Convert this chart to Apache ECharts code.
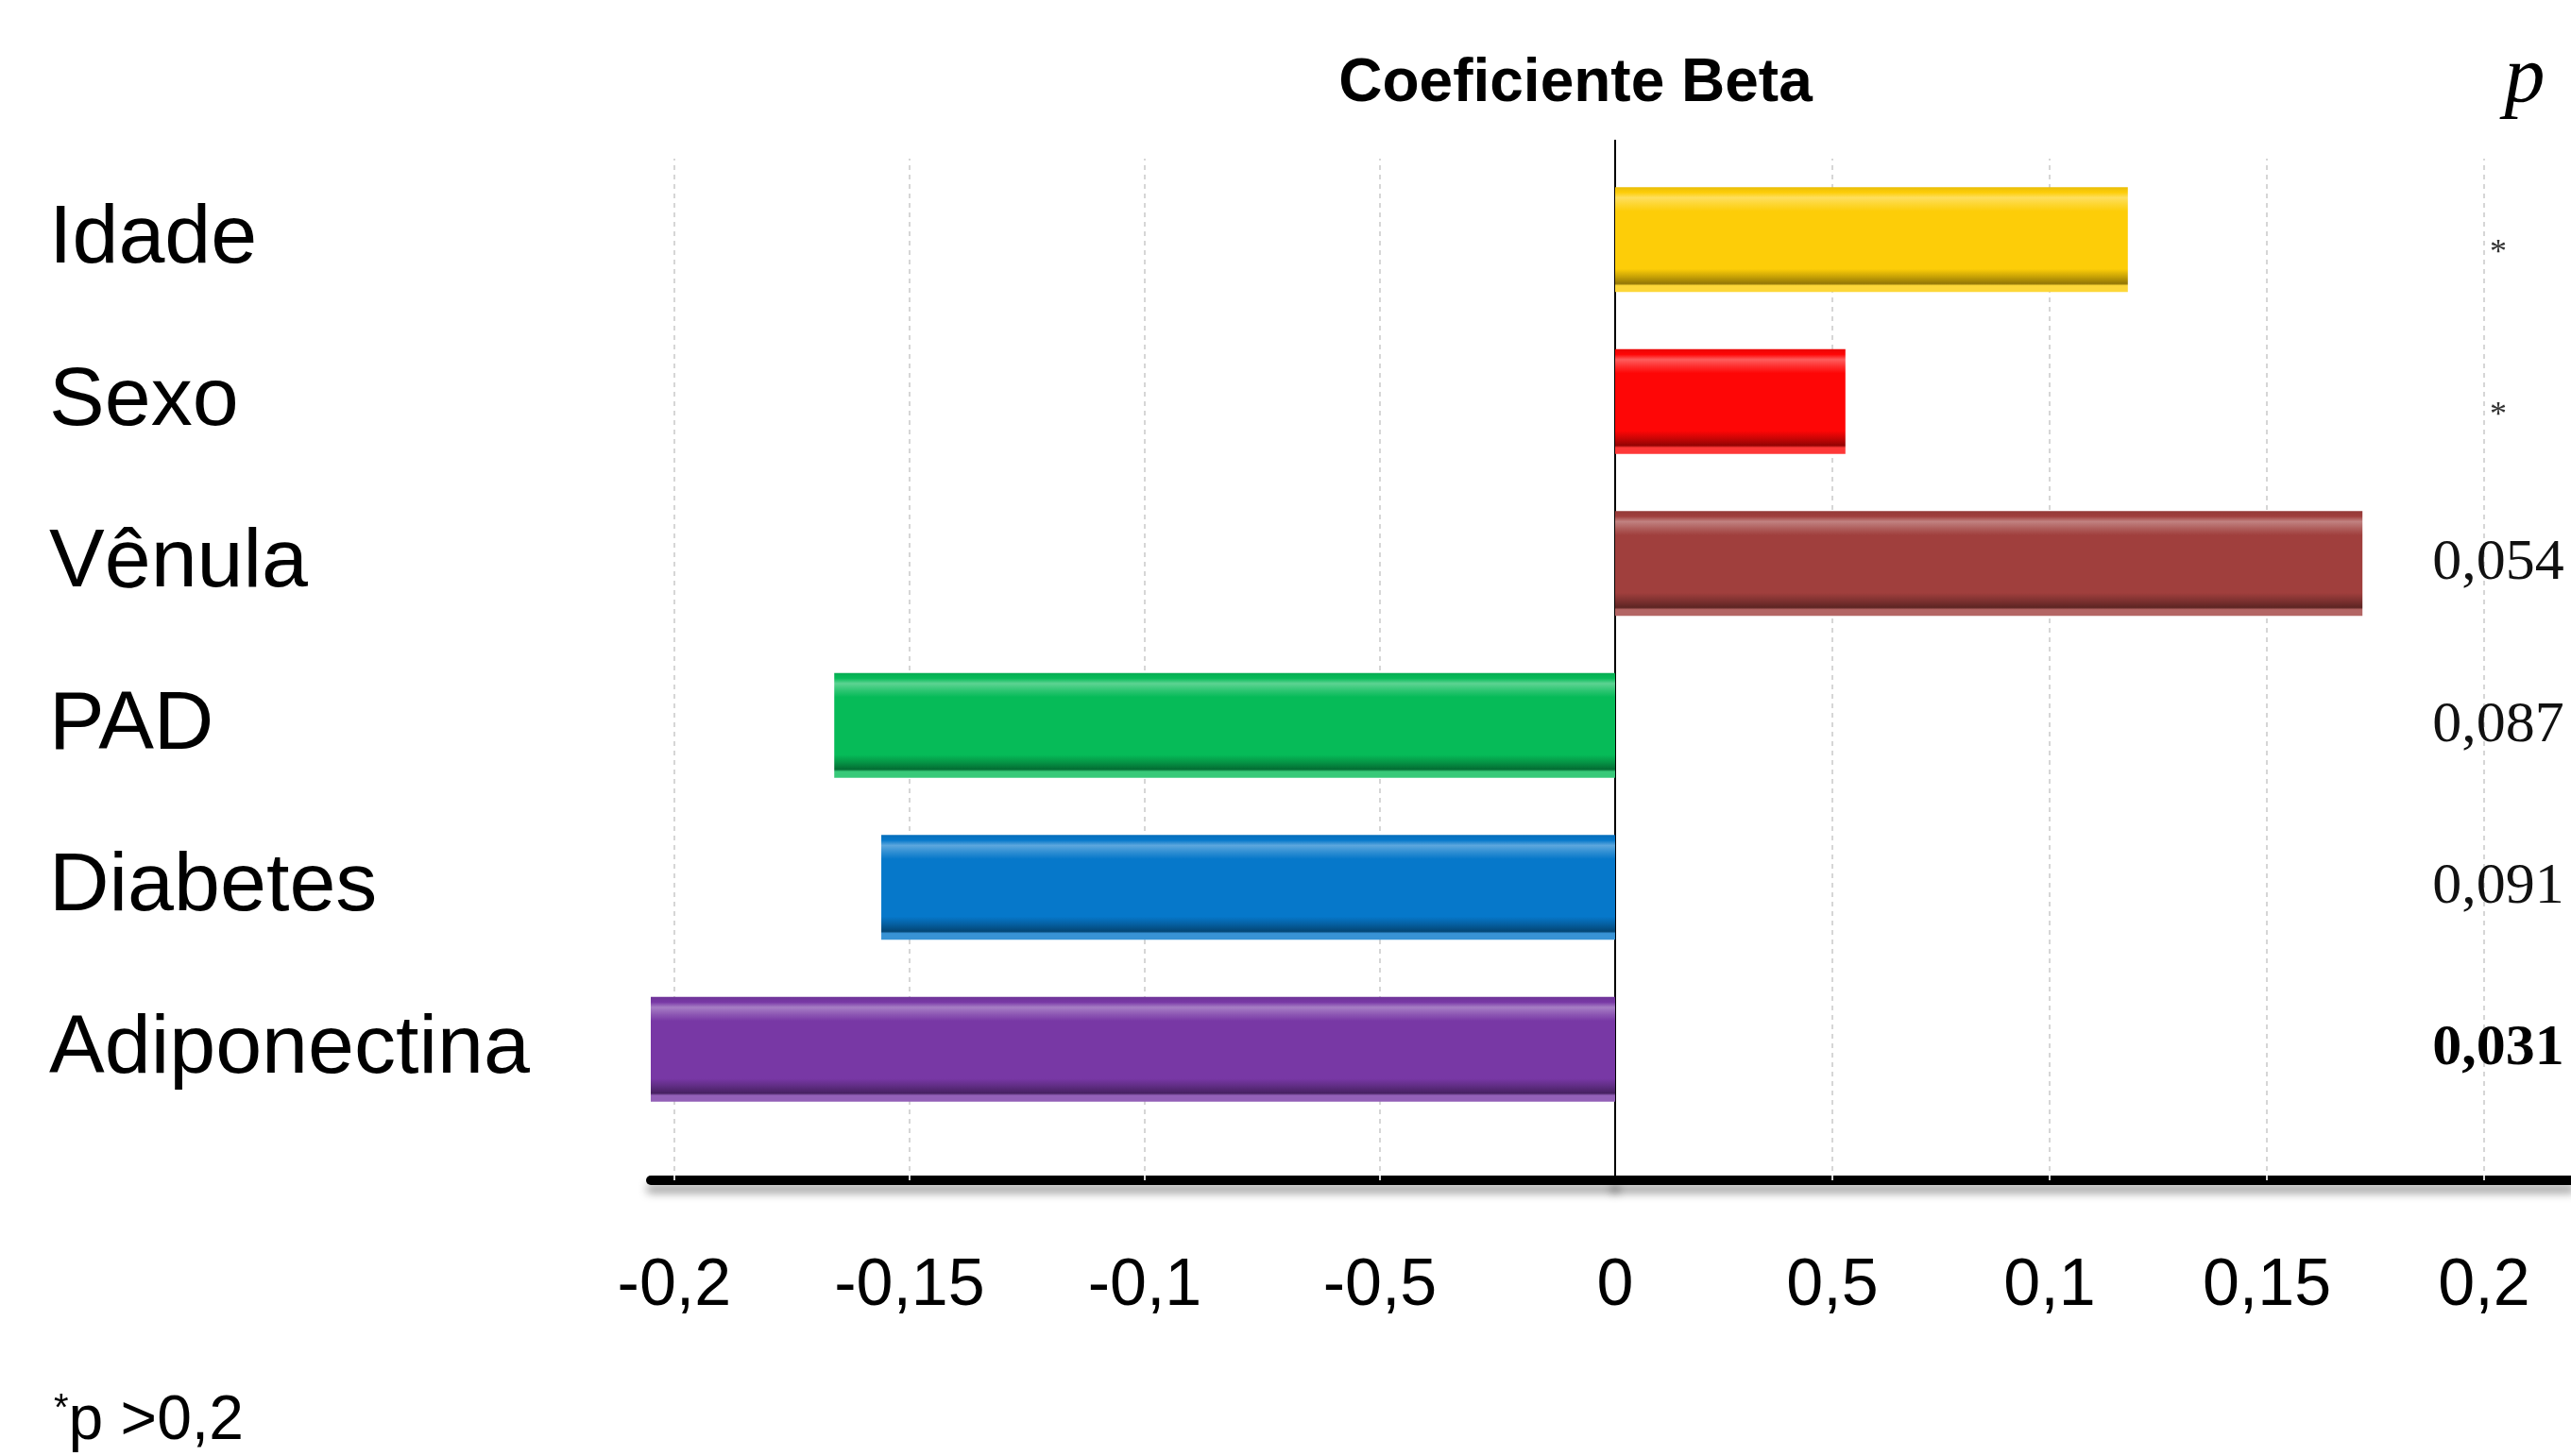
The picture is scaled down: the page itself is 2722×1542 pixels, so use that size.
<!DOCTYPE html>
<html>
<head>
<meta charset="utf-8">
<script src="https://cdn.jsdelivr.net/npm/echarts@6/dist/echarts.min.js"></script>
<style>
    html, body { margin: 0; background: #fff; }
    #betaChart { width: 2722px; height: 1542px; }
</style>
</head>
<body>
<div id="betaChart"></div>
<script>
// data (top to bottom)
const categories = ['Idade', 'Sexo', 'Vênula', 'PAD', 'Diabetes', 'Adiponectina'];
const betaValues = [0.118, 0.053, 0.172, -0.166, -0.156, -0.205];
const pValues = ['*', '*', '0,054', '0,087', '0,091', '0,031'];
const tickValues = [-0.2, -0.15, -0.1, -0.05, 0, 0.05, 0.1, 0.15, 0.2];
const tickLabels = ['-0,2', '-0,15', '-0,1', '-0,5', '0', '0,5', '0,1', '0,15', '0,2'];
const barColors = ['#FDCD08', '#FE0606', '#A03F3D', '#06BB58', '#0678CA', '#7838A5'];

const FONT = "'Liberation Sans', Arial, sans-serif";

// mix a hex colour towards white (t > 0) or black (t < 0)
function shade(hex, t) {
    const n = parseInt(hex.slice(1), 16);
    const target = t > 0 ? 255 : 0;
    const a = Math.abs(t);
    const ch = [(n >> 16) & 255, (n >> 8) & 255, n & 255]
        .map(c => Math.round(c + (target - c) * a));
    return 'rgb(' + ch.join(',') + ')';
}

// bevelled look: light band near the top, dark band near the bottom
function barGradient(c) {
    return {
        type: 'linear', x: 0, y: 0, x2: 0, y2: 1,
        colorStops: [
            { offset: 0, color: shade(c, -0.08) },
            { offset: 0.05, color: c },
            { offset: 0.1, color: shade(c, 0.35) },
            { offset: 0.17, color: shade(c, 0.15) },
            { offset: 0.23, color: c },
            { offset: 0.78, color: c },
            { offset: 0.85, color: shade(c, -0.2) },
            { offset: 0.92, color: shade(c, -0.42) },
            { offset: 0.94, color: shade(c, 0.2) },
            { offset: 1, color: shade(c, 0.2) }
        ]
    };
}

function tickText(v) {
    const i = tickValues.findIndex(t => Math.abs(t - v) < 1e-6);
    return i >= 0 ? tickLabels[i] : '';
}

function pText(v, i) {
    const p = pValues[i];
    if (p === '*') return '{s|*}';
    return parseFloat(p.replace(',', '.')) < 0.05 ? '{b|' + p + '}' : '{n|' + p + '}';
}

const leftTicks = tickValues.filter(v => v <= 0);
const rightTicks = tickValues.filter(v => v >= 0);

const baseAxis = {
    type: 'value',
    position: 'bottom',
    offset: 53,
    axisLine: {
        show: true,
        lineStyle: {
            color: '#000', width: 10,
            shadowColor: 'rgba(0,0,0,0.35)', shadowBlur: 10, shadowOffsetY: 9
        }
    },
    axisTick: {
        show: true, inside: true, length: 1082,
        lineStyle: { color: '#d6d6d6', width: 2, type: [5, 5] }
    },
    axisLabel: {
        formatter: tickText, fontSize: 70, margin: 78,
        color: '#000', fontFamily: FONT
    },
    splitLine: { show: false }
};

const chartDom = document.getElementById('betaChart');
const betaChart = echarts.init(chartDom);

const options = {
    backgroundColor: '#fff',
    animation: false,
    title: [
        {
            text: 'Coeficiente Beta', left: 1663, top: 52, textAlign: 'center',
            textStyle: { fontSize: 64, fontWeight: 'bold', fontFamily: FONT, color: '#000' }
        },
        {
            text: 'p', left: 2668, top: 36, textAlign: 'center',
            textStyle: {
                fontSize: 86, fontStyle: 'italic', fontWeight: 'normal',
                fontFamily: "'Liberation Serif', serif", color: '#000'
            }
        },
        {
            text: '{s|*}p >0,2', left: 52, top: 1468,
            textStyle: {
                fontSize: 66, fontWeight: 'normal', fontFamily: FONT, color: '#000',
                rich: {
                    s: { fontSize: 40, verticalAlign: 'top', fontFamily: FONT, color: '#000' }
                }
            }
        }
    ],
    grid: [
        { left: 689, top: 168, width: 1021, height: 1029, outerBoundsMode: 'none' },
        { left: 1710, top: 168, width: 1012, height: 1029, outerBoundsMode: 'none' }
    ],
    xAxis: [
        Object.assign({}, baseAxis, {
            gridIndex: 0, min: -0.205, max: 0,
            axisTick: Object.assign({}, baseAxis.axisTick, { customValues: leftTicks }),
            axisLabel: Object.assign({}, baseAxis.axisLabel, { customValues: leftTicks.filter(v => v < 0) })
        }),
        Object.assign({}, baseAxis, {
            gridIndex: 1, min: 0, max: 0.22,
            axisTick: Object.assign({}, baseAxis.axisTick, { customValues: rightTicks }),
            axisLabel: Object.assign({}, baseAxis.axisLabel, { customValues: rightTicks })
        }),
        {
            // zero line, drawn as a single long tick
            type: 'value', gridIndex: 1, position: 'top', offset: 20, min: 0, max: 0.22,
            axisLine: { show: false },
            axisLabel: { show: false },
            splitLine: { show: false },
            axisTick: {
                show: true, inside: true, length: 1102, customValues: [0],
                lineStyle: { color: '#000', width: 2 }
            }
        }
    ],
    yAxis: [
        {
            type: 'category', gridIndex: 0, data: categories, inverse: true,
            position: 'left',
            axisLine: { show: false }, axisTick: { show: false },
            axisLabel: { align: 'left', margin: 637, fontSize: 88, color: '#000', fontFamily: FONT }
        },
        {
            type: 'category', gridIndex: 1, data: categories, inverse: true,
            position: 'right', offset: -77,
            axisLine: { show: false }, axisTick: { show: false },
            axisLabel: {
                formatter: pText, align: 'center', margin: 0,
                rich: {
                    n: { fontSize: 62, fontFamily: "'Liberation Serif', serif", color: '#111' },
                    b: { fontSize: 62, fontWeight: 'bold', fontFamily: "'Liberation Serif', serif", color: '#000' },
                    s: { fontSize: 36, fontFamily: "'Liberation Serif', serif", color: '#333', padding: [30, 0, 0, 0] }
                }
            }
        }
    ],
    series: [
        {
            name: 'negativo', type: 'bar', xAxisIndex: 0, yAxisIndex: 0,
            barWidth: 111, clip: false,
            data: betaValues.map((v, i) => v < 0
                ? { value: v, itemStyle: { color: barGradient(barColors[i]) } } : '-')
        },
        {
            name: 'positivo', type: 'bar', xAxisIndex: 1, yAxisIndex: 1,
            barWidth: 111, clip: false,
            data: betaValues.map((v, i) => v > 0
                ? { value: v, itemStyle: { color: barGradient(barColors[i]) } } : '-')
        }
    ]
};

betaChart.setOption(options);
</script>
</body>
</html>
